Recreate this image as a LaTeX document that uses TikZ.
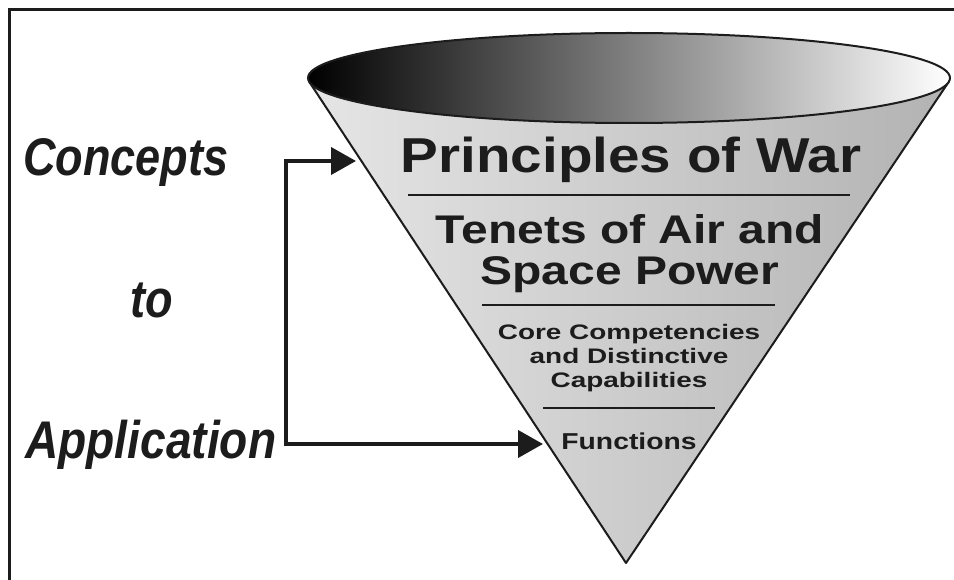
\documentclass[tikz,border=0pt]{standalone}
\usepackage{fontspec}
\newfontfamily\arial{Liberation Sans}
\usetikzlibrary{arrows.meta}
\definecolor{ink}{HTML}{1C1C1C}
\tikzset{
  cone/.style={text=ink, inner sep=0pt, anchor=base},
  lbl/.style={text=ink, inner sep=0pt, anchor=base west, font=\arial\bfseries\itshape\fontsize{53}{53}\selectfont},
  sepline/.style={draw=ink, line width=2.5pt},
  conn/.style={draw=ink, line width=4pt, {Triangle[length=25pt,width=27pt]}-{Triangle[length=25pt,width=27pt]}}
}
\newcommand{\fs}[2]{\arial\bfseries\fontsize{#1}{#1}\selectfont\scalebox{#2}[1]}
\begin{document}
\begin{tikzpicture}[x=1pt,y=-1pt]
\useasboundingbox (0,0) rectangle (954,580);
\fill[white] (0,0) rectangle (954,580);
% frame
\draw[ink, line width=3pt] (9,580) -- (9,9.5) -- (954,9.5);
% cone body
\coordinate (apex) at (626,563);
\shade[left color=black!10, right color=black!30]
  (apex) -- (309.4,82) arc[start angle=185.3, end angle=354.7, x radius=321, y radius=-45] -- cycle;
\draw[ink, line width=2pt, line join=round] (309.4,82) -- (apex) -- (948.6,82);
% top ellipse
\shade[left color=black, right color=white, draw=ink, line width=2pt]
  (629,78) ellipse[x radius=321, y radius=45];
% texts in cone
\node[cone] (pw) at (631,173) {\fs{49}{1.155}{Principles of War}};
\draw[sepline] (408,195) -- (850,195);
\node[cone] (tn1) at (630,244) {\fs{40}{1.2}{Tenets of Air and}};
\node[cone] (tn2) at (630,285) {\fs{40}{1.2}{Space Power}};
\draw[sepline] (482,305) -- (775,305);
\node[cone] (cc1) at (629,339) {\fs{21}{1.33}{Core Competencies}};
\node[cone] (cc2) at (629,363) {\fs{21}{1.33}{and Distinctive}};
\node[cone] (cc3) at (629,387) {\fs{21}{1.33}{Capabilities}};
\draw[sepline] (543,408) -- (715,408);
\node[cone] (fn) at (629,449) {\fs{23}{1.23}{Functions}};
% left labels
\node[lbl] (concepts) at (23,176) {\scalebox{0.85}[1]{Concepts}};
\node[lbl] (to) at (130,318) {\scalebox{0.85}[1]{to}};
\node[lbl] (application) at (25,458) {\scalebox{0.87}[1]{Application}};
% connector
\coordinate (tip1) at (356,161);
\coordinate (c1) at (286,161);
\coordinate (c2) at (286,444);
\coordinate (tip2) at (543,444);
\draw[conn, line join=miter] (tip1) -- (c1) -- (c2) -- (tip2);
\end{tikzpicture}
\end{document}
